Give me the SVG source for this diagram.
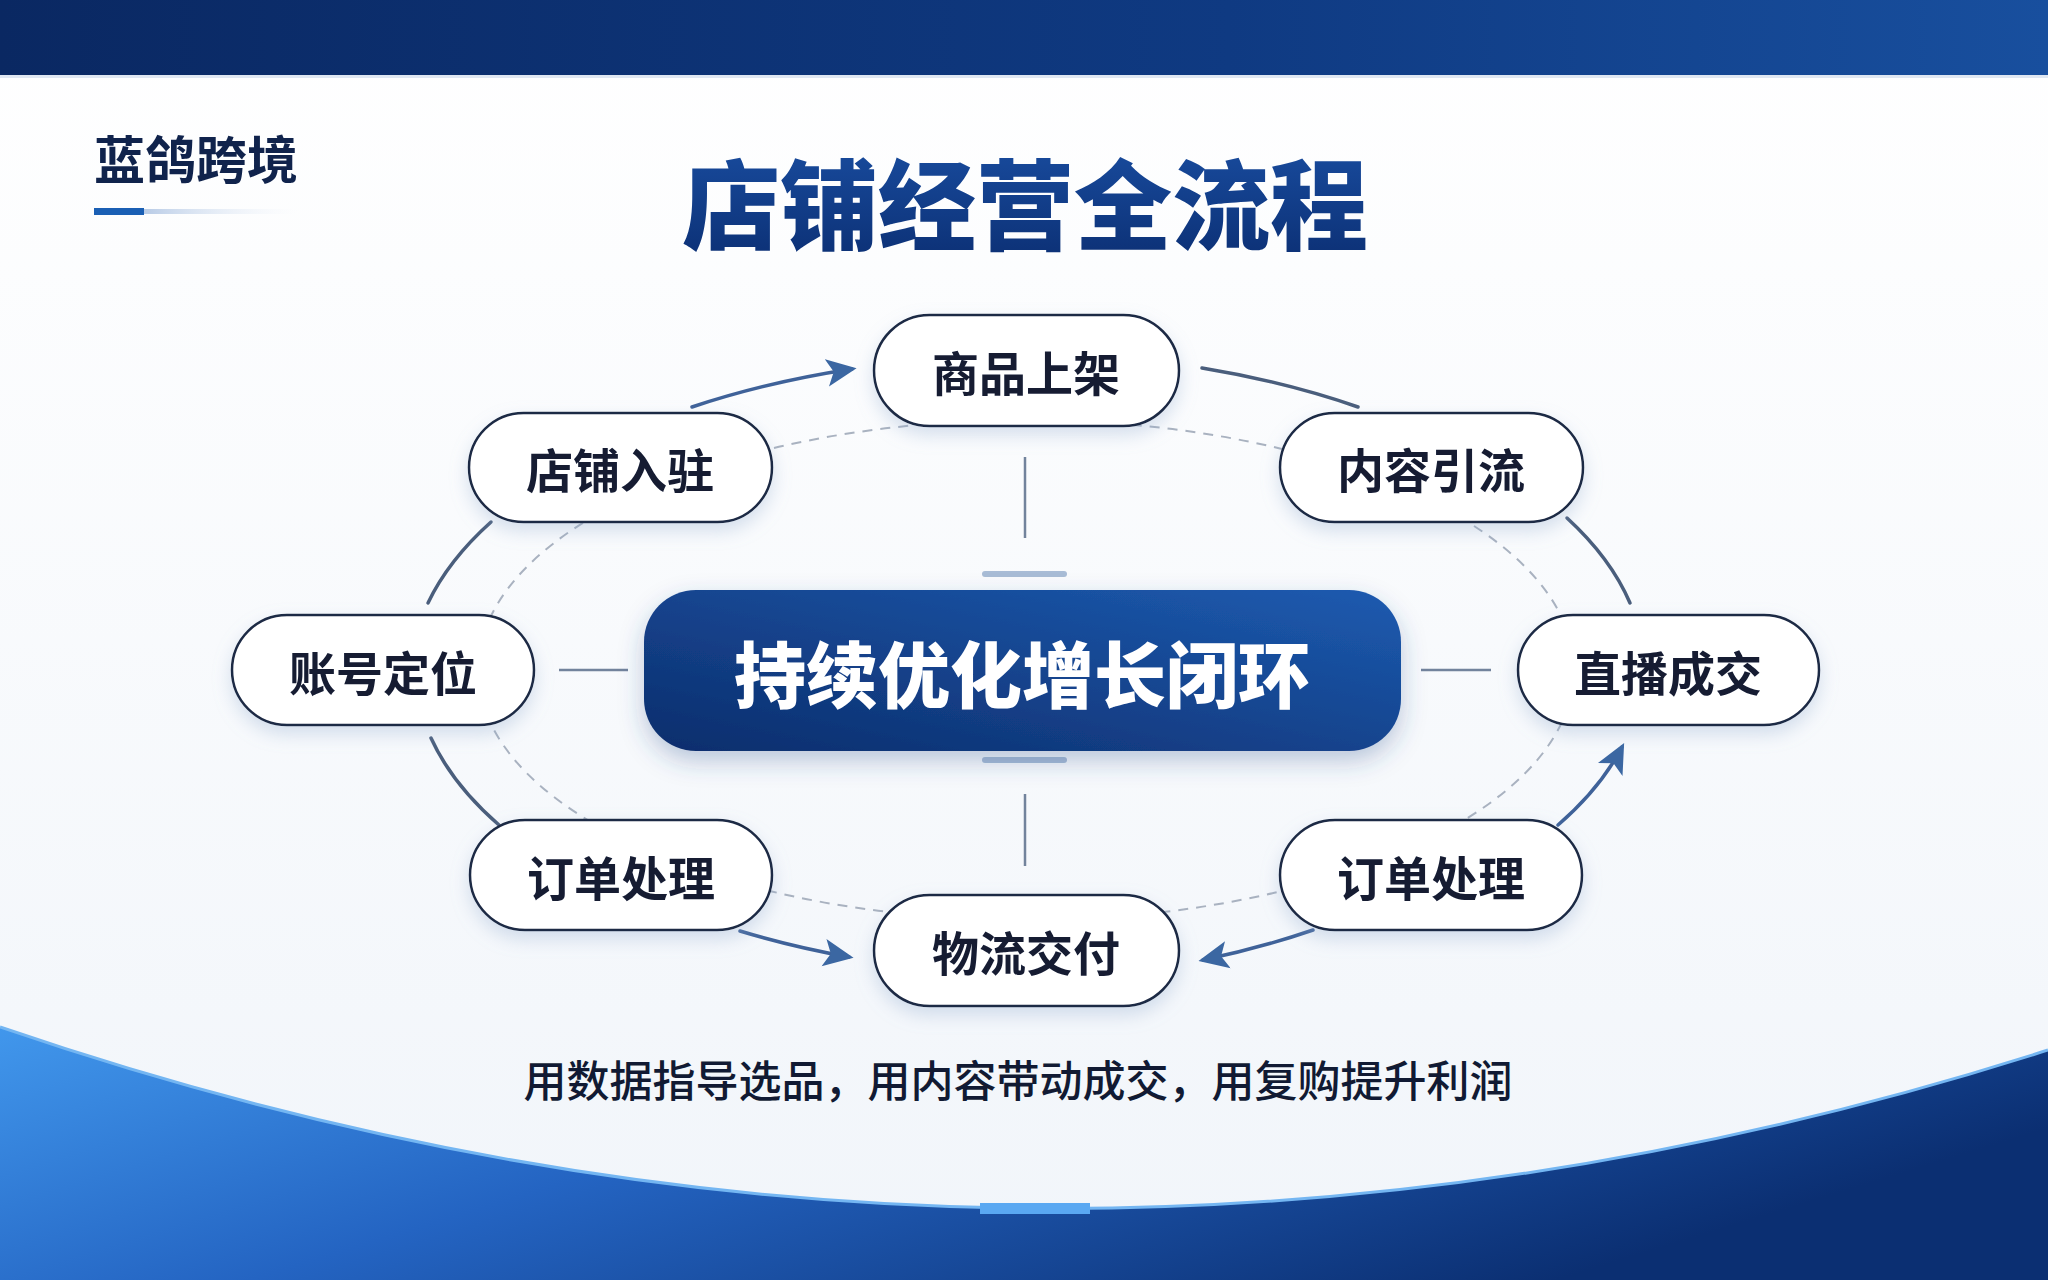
<svg xmlns="http://www.w3.org/2000/svg" width="2048" height="1280" viewBox="0 0 2048 1280">
<defs>
<linearGradient id="bgW" x1="0" y1="0" x2="0" y2="1"><stop offset="0" stop-color="#ffffff"/><stop offset="1" stop-color="#f1f5fa"/></linearGradient>
<linearGradient id="topBar" x1="0" y1="0" x2="1" y2="0"><stop offset="0" stop-color="#0a2862"/><stop offset="0.6" stop-color="#0f3a82"/><stop offset="1" stop-color="#184f9e"/></linearGradient>
<linearGradient id="botBlue" x1="0" y1="0" x2="1" y2="0.4"><stop offset="0" stop-color="#4197ec"/><stop offset="0.45" stop-color="#2464c2"/><stop offset="1" stop-color="#0b2f72"/></linearGradient>
<linearGradient id="centerG" x1="0" y1="1" x2="1" y2="0"><stop offset="0" stop-color="#0c2d6c"/><stop offset="1" stop-color="#1d5bb0"/></linearGradient>
<linearGradient id="titleG" x1="0" y1="0" x2="0" y2="1"><stop offset="0" stop-color="#1a4fa3"/><stop offset="1" stop-color="#0b2e72"/></linearGradient>
<linearGradient id="fadeLine" x1="0" y1="0" x2="1" y2="0"><stop offset="0" stop-color="#b8cbe6"/><stop offset="1" stop-color="#eef3fa" stop-opacity="0"/></linearGradient>
<filter id="shadow" x="-20%" y="-30%" width="140%" height="170%"><feDropShadow dx="0" dy="8" stdDeviation="9" flood-color="#8fa8cc" flood-opacity="0.35"/></filter>
<filter id="shadow2" x="-10%" y="-20%" width="120%" height="150%"><feDropShadow dx="0" dy="10" stdDeviation="12" flood-color="#2a4f8a" flood-opacity="0.3"/></filter>
<marker id="arr" markerUnits="userSpaceOnUse" markerWidth="30" markerHeight="30" viewBox="0 0 26 24" refX="22" refY="12" orient="auto"><path d="M0,0 L26,12 L0,24 L6,12 z" fill="#3b67a2"/></marker>
<style>
.node rect{fill:#ffffff;stroke:#1e2a44;stroke-width:2.5;}
.node text{font-family:"Noto Sans CJK SC","Noto Sans",sans-serif;font-weight:700;font-size:47px;fill:#121a33;text-anchor:middle;dominant-baseline:central;}
.arc{fill:none;stroke:#4a5e7c;stroke-width:3.5;stroke-linecap:round;}
.arcA{fill:none;stroke:#3f6299;stroke-width:3.5;stroke-linecap:round;}
.spoke{stroke:#72839c;stroke-width:2.5;}
.bar{stroke:#a8bcd6;stroke-width:6;stroke-linecap:round;}
</style>
</defs>
<rect width="2048" height="1280" fill="url(#bgW)"/>
<rect width="2048" height="75" fill="url(#topBar)"/>
<rect y="75" width="2048" height="3" fill="#dfe7f2"/>
<path d="M0,1027 Q1024,1378 2048,1050 L2048,1280 L0,1280 z" fill="url(#botBlue)"/>
<path d="M0,1027 Q1024,1378 2048,1050" fill="none" stroke="#74b6f2" stroke-width="3"/>
<rect x="980" y="1203" width="110" height="11" fill="#5aa8f2"/>
<g id="logo">
<text x="94" y="157" font-family="'Noto Sans CJK SC','Noto Sans',sans-serif" font-weight="700" font-size="51" fill="#10234c" dominant-baseline="central">蓝鸽跨境</text>
<rect x="94" y="208" width="50" height="7" fill="#1a5fb4"/>
<rect x="144" y="209" width="154" height="5" fill="url(#fadeLine)"/>
</g>
<text id="title" x="1025" y="199" font-family="'Noto Sans CJK SC','Noto Sans',sans-serif" font-weight="900" font-size="98" fill="url(#titleG)" text-anchor="middle" dominant-baseline="central">店铺经营全流程</text>
<g id="connectors">
<ellipse cx="1026" cy="670" rx="548" ry="250" fill="none" stroke="#a9b2c0" stroke-width="2" stroke-dasharray="10 8"/>
<path class="arcA" d="M692,407 A611,312 0 0 1 852,369" marker-end="url(#arr)"/>
<path class="arc" d="M1202,368 A611,312 0 0 1 1358,407"/>
<path class="arc" d="M1567,518 A611,312 0 0 1 1630,603"/>
<path class="arc" d="M428,603 A611,312 0 0 1 491,522"/>
<path class="arc" d="M499,825 A611,312 0 0 1 431,738"/>
<path class="arcA" d="M740,931 A611,312 0 0 0 849,957" marker-end="url(#arr)"/>
<path class="arcA" d="M1313,930 A611,312 0 0 1 1203,960" marker-end="url(#arr)"/>
<path class="arcA" d="M1558,825 A611,312 0 0 0 1622,747" marker-end="url(#arr)"/>
<line class="spoke" x1="1025" y1="457" x2="1025" y2="538"/>
<line class="bar" x1="985" y1="574" x2="1064" y2="574"/>
<line class="bar" x1="985" y1="760" x2="1064" y2="760"/>
<line class="spoke" x1="1025" y1="794" x2="1025" y2="866"/>
<line class="spoke" x1="559" y1="670" x2="628" y2="670"/>
<line class="spoke" x1="1421" y1="670" x2="1491" y2="670"/>
</g>
<g id="center" filter="url(#shadow2)">
<rect x="644" y="590" width="757" height="161" rx="52" fill="url(#centerG)"/>
<text x="1022" y="670" font-family="'Noto Sans CJK SC','Noto Sans',sans-serif" font-weight="900" font-size="72" fill="#ffffff" text-anchor="middle" dominant-baseline="central">持续优化增长闭环</text>
</g>
<g id="n-shangpin" class="node" filter="url(#shadow)"><rect x="874" y="315" width="305" height="111" rx="55.5"/><text x="1026" y="370">商品上架</text></g>
<g id="n-ruzhu" class="node" filter="url(#shadow)"><rect x="469" y="413" width="303" height="109" rx="54.5"/><text x="620" y="467">店铺入驻</text></g>
<g id="n-yinliu" class="node" filter="url(#shadow)"><rect x="1280" y="413" width="303" height="109" rx="54.5"/><text x="1431" y="467">内容引流</text></g>
<g id="n-zhanghao" class="node" filter="url(#shadow)"><rect x="232" y="615" width="302" height="110" rx="55"/><text x="383" y="670">账号定位</text></g>
<g id="n-zhibo" class="node" filter="url(#shadow)"><rect x="1518" y="615" width="301" height="110" rx="55"/><text x="1668" y="670">直播成交</text></g>
<g id="n-dingdan-l" class="node" filter="url(#shadow)"><rect x="470" y="820" width="302" height="110" rx="55"/><text x="621" y="875">订单处理</text></g>
<g id="n-dingdan-r" class="node" filter="url(#shadow)"><rect x="1280" y="820" width="302" height="110" rx="55"/><text x="1431" y="875">订单处理</text></g>
<g id="n-wuliu" class="node" filter="url(#shadow)"><rect x="874" y="895" width="305" height="111" rx="55.5"/><text x="1026" y="950">物流交付</text></g>
<text id="tagline" x="1018" y="1078" font-family="'Noto Sans CJK SC','Noto Sans',sans-serif" font-weight="500" font-size="43" fill="#111a33" text-anchor="middle" dominant-baseline="central">用数据指导选品，用内容带动成交，用复购提升利润</text>
</svg>
